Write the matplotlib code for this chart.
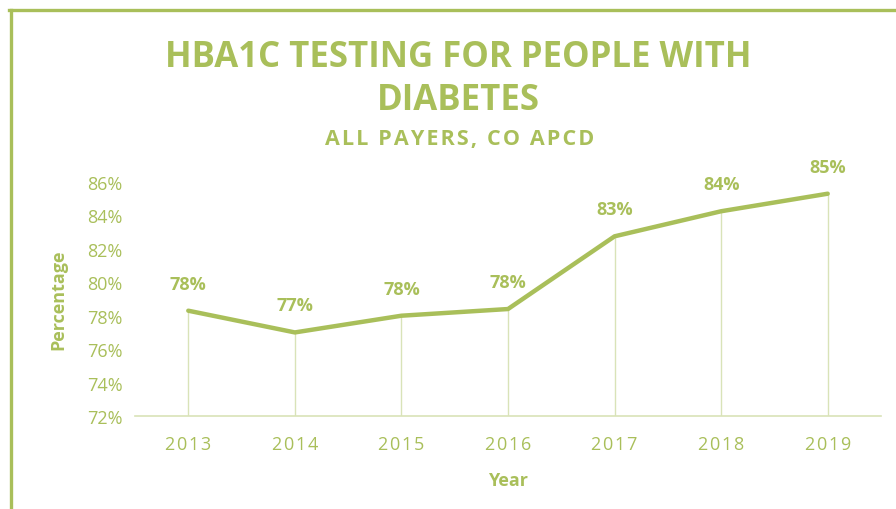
import matplotlib.pyplot as plt
from matplotlib.lines import Line2D

# HbA1c testing for people with diabetes, all payers (CO APCD)
years = ["2013", "2014", "2015", "2016", "2017", "2018", "2019"]
pct = [78.3, 77.0, 78.0, 78.4, 82.75, 84.25, 85.3]
labels = ["78%", "77%", "78%", "78%", "83%", "84%", "85%"]
yticks = [72, 74, 76, 78, 80, 82, 84, 86]

green = "#a9bf5a"
light = "#d9e3b8"
font = ["Open Sans", "DejaVu Sans"]


def spaced(s, sp="\u200a"):
    # rough letter spacing
    return sp.join(s)


fig = plt.figure(figsize=(8.96, 5.10), dpi=100)
ax = fig.add_axes([135 / 896, 1 - 417 / 510, 746 / 896, 234 / 510])

x = list(range(len(years)))
ax.vlines(x, 72, pct, color=light, lw=1)
ax.plot(x, pct, color=green, lw=3.2, solid_capstyle="round")
for i, v in enumerate(pct):
    ax.annotate(labels[i], (i, v), xytext=(0, 13), textcoords="offset points",
                ha="center", va="bottom", color=green, fontsize=13,
                fontweight="bold", family=font)

ax.set_xlim(-0.5, 6.5)
ax.set_ylim(72, 86)
ax.set_yticks(yticks)
ax.set_yticklabels([f"{t}%" for t in yticks], family=font, fontsize=13, color=green)
ax.set_xticks(x)
ax.set_xticklabels([spaced(y) for y in years], family=font, fontsize=13, color=green)
ax.tick_params(length=0, pad=9)
ax.tick_params(axis="x", pad=14)
for s in ["top", "right", "left"]:
    ax.spines[s].set_visible(False)
ax.spines["bottom"].set_color(light)
ax.spines["bottom"].set_linewidth(1.2)

ax.set_ylabel("Percentage", family=font, fontsize=13, fontweight="bold", color=green, labelpad=14)
ax.set_xlabel("Year", family=font, fontsize=13, fontweight="bold", color=green, labelpad=13)

fig.text(458 / 896, 1 - 67 / 510, "HBA1C TESTING FOR PEOPLE WITH", ha="center", va="baseline",
         family=font, fontsize=25, fontweight="bold", color=green)
fig.text(458 / 896, 1 - 110 / 510, "DIABETES", ha="center", va="baseline",
         family=font, fontsize=25, fontweight="bold", color=green)
fig.text(460 / 896, 1 - 145 / 510, spaced("ALL PAYERS, CO APCD"), ha="center", va="baseline",
         family=font, fontsize=15.5, fontweight="bold", color=green)

# outer frame (left and top edges)
fig.add_artist(Line2D([10.5 / 896, 10.5 / 896], [0, 1 - 10.5 / 510], transform=fig.transFigure,
                      color=green, lw=2.4))
fig.add_artist(Line2D([9.3 / 896, 1], [1 - 10.5 / 510, 1 - 10.5 / 510], transform=fig.transFigure,
                      color=green, lw=2.4))

fig.savefig("out.png", dpi=100)
